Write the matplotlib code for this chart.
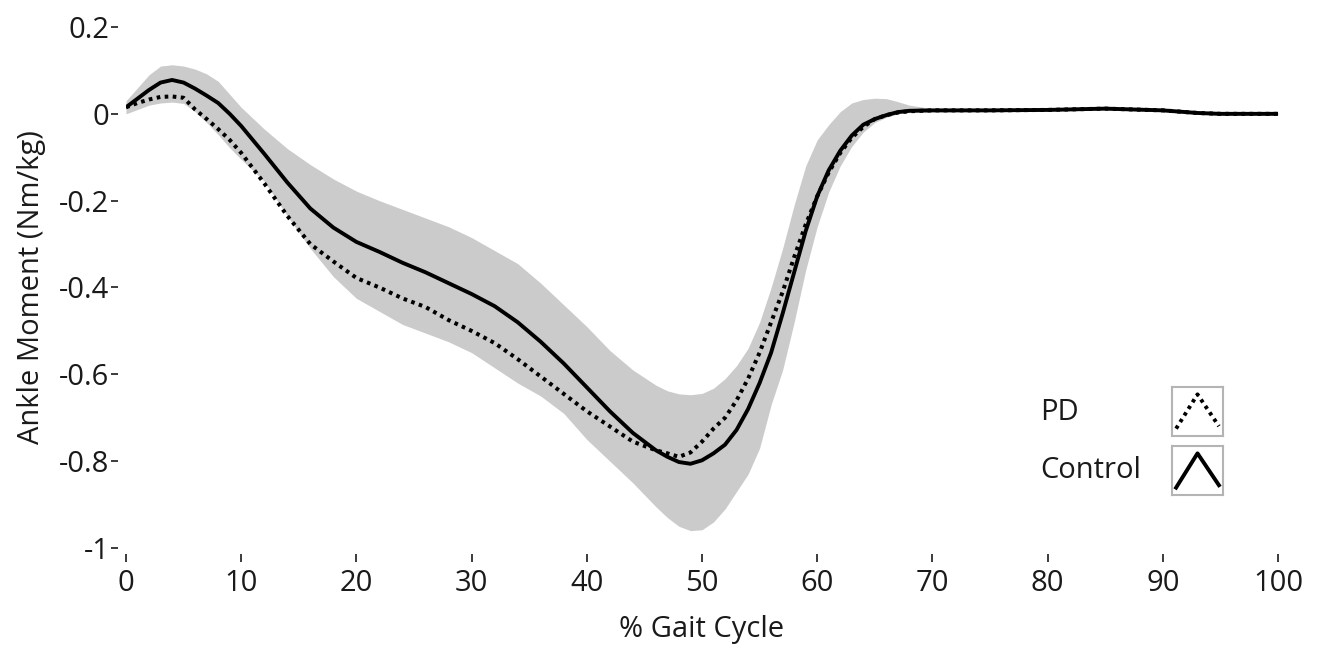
import numpy as np
import matplotlib
matplotlib.use("Agg")
import matplotlib.pyplot as plt

plt.rcParams['font.family'] = ['Open Sans', 'DejaVu Sans']

# % gait cycle grid
gait = [0, 1, 2, 3, 4, 5, 6, 7, 8, 9, 10, 12, 14, 16, 18, 20, 22, 24, 26, 28,
        30, 32, 34, 36, 38, 40, 42, 44, 46, 47, 48, 49, 50, 51, 52, 53, 54, 55,
        56, 57, 58, 59, 60, 61, 62, 63, 64, 65, 66, 67, 68, 70, 75, 80, 85, 90,
        93, 95, 100]

# Control mean (solid)
control = [0.015, 0.035, 0.055, 0.072, 0.078, 0.072, 0.058, 0.042, 0.025, 0.0,
           -0.028, -0.092, -0.158, -0.218, -0.262, -0.295, -0.318, -0.343, -0.365,
           -0.39, -0.415, -0.443, -0.48, -0.525, -0.575, -0.63, -0.685, -0.735,
           -0.775, -0.79, -0.802, -0.806, -0.798, -0.782, -0.762, -0.728, -0.68,
           -0.62, -0.55, -0.46, -0.365, -0.27, -0.19, -0.13, -0.085, -0.05,
           -0.025, -0.012, -0.003, 0.004, 0.007, 0.008, 0.008, 0.009, 0.012,
           0.008, 0.002, 0.0, 0.0]

# PD mean (dotted)
pd_mean = [0.015, 0.025, 0.033, 0.039, 0.04, 0.037, 0.01, -0.012, -0.035, -0.06,
           -0.09, -0.16, -0.235, -0.30, -0.34, -0.378, -0.40, -0.425, -0.445,
           -0.475, -0.50, -0.528, -0.565, -0.605, -0.645, -0.685, -0.72, -0.755,
           -0.775, -0.782, -0.79, -0.78, -0.755, -0.725, -0.70, -0.66, -0.61,
           -0.55, -0.48, -0.41, -0.33, -0.255, -0.19, -0.135, -0.09, -0.055,
           -0.03, -0.012, -0.003, 0.003, 0.006, 0.008, 0.008, 0.009, 0.012,
           0.008, 0.002, 0.0, 0.0]

# Control +/- SD band
band_upper = [0.03, 0.06, 0.09, 0.11, 0.113, 0.11, 0.103, 0.092, 0.075, 0.045,
              0.015, -0.035, -0.08, -0.117, -0.15, -0.178, -0.2, -0.22, -0.24,
              -0.26, -0.285, -0.315, -0.345, -0.39, -0.44, -0.49, -0.545, -0.59,
              -0.625, -0.638, -0.645, -0.647, -0.644, -0.632, -0.61, -0.58, -0.54,
              -0.48, -0.40, -0.31, -0.21, -0.12, -0.06, -0.025, 0.005, 0.025,
              0.033, 0.036, 0.035, 0.028, 0.02, 0.012, 0.011, 0.012, 0.015,
              0.011, 0.005, 0.003, 0.003]
band_lower = [0.0, 0.01, 0.02, 0.025, 0.027, 0.024, 0.005, -0.02, -0.048, -0.078,
              -0.105, -0.155, -0.235, -0.31, -0.375, -0.425, -0.455, -0.485,
              -0.505, -0.525, -0.55, -0.585, -0.62, -0.65, -0.69, -0.75, -0.80,
              -0.85, -0.905, -0.93, -0.95, -0.96, -0.958, -0.94, -0.91, -0.87,
              -0.83, -0.77, -0.67, -0.59, -0.48, -0.36, -0.26, -0.18, -0.12,
              -0.075, -0.042, -0.02, -0.008, 0.0, 0.003, 0.004, 0.005, 0.006,
              0.009, 0.005, -0.001, -0.003, -0.003]

xticks = [0, 10, 20, 30, 40, 50, 60, 70, 80, 90, 100]
yticks = [0.2, 0, -0.2, -0.4, -0.6, -0.8, -1]
ytick_labels = ['0.2', '0', '-0.2', '-0.4', '-0.6', '-0.8', '-1']

txt = '#1a1a1a'
fs = 21

fig = plt.figure(figsize=(13.23, 6.56), dpi=100)
ax = fig.add_axes([126 / 1323, 1 - 548 / 656, (1278 - 126) / 1323, (548 - 27) / 656])

ax.fill_between(gait, band_lower, band_upper, color='#cbcbcb', linewidth=0)
ax.plot(gait, pd_mean, color='black', linewidth=2.9, linestyle=(0, (0.9, 1.1)))
ax.plot(gait, control, color='black', linewidth=2.8, solid_capstyle='butt')

ax.set_xlim(0, 100)
ax.set_ylim(-1, 0.2)
for s in ax.spines.values():
    s.set_visible(False)
ax.spines['left'].set_position(('outward', 6))
ax.spines['bottom'].set_position(('outward', 4))

ax.set_xticks(xticks)
ax.set_yticks(yticks)
ax.set_yticklabels(ytick_labels)
ax.tick_params(axis='y', length=5, width=1.2, pad=1, labelsize=fs, colors=txt)
ax.tick_params(axis='x', length=6, width=1.2, pad=5, labelsize=fs, colors=txt)

ax.set_xlabel('% Gait Cycle', fontsize=fs, color=txt, labelpad=12)
ax.set_ylabel('Ankle Moment (Nm/kg)', fontsize=fs, color=txt, labelpad=9)

# legend drawn as text + small boxes
fig.text(1040 / 1323, 1 - 412 / 656, 'PD', fontsize=fs, color=txt, va='center')
fig.text(1040 / 1323, 1 - 470 / 656, 'Control', fontsize=fs, color=txt, va='center')
for top, style in [(387, (0, (0.9, 1.1))), (446, '-')]:
    lax = fig.add_axes([1172 / 1323, 1 - (top + 49) / 656, 51 / 1323, 49 / 656])
    lax.set_xticks([])
    lax.set_yticks([])
    for s in lax.spines.values():
        s.set_color('#b4b4b4')
        s.set_linewidth(1.5)
    lax.plot([0.08, 0.5, 0.92], [0.15, 0.85, 0.2], color='black', linewidth=2.8,
             linestyle=style)
    lax.set_xlim(0, 1)
    lax.set_ylim(0, 1)

fig.savefig('out.png', dpi=100)
